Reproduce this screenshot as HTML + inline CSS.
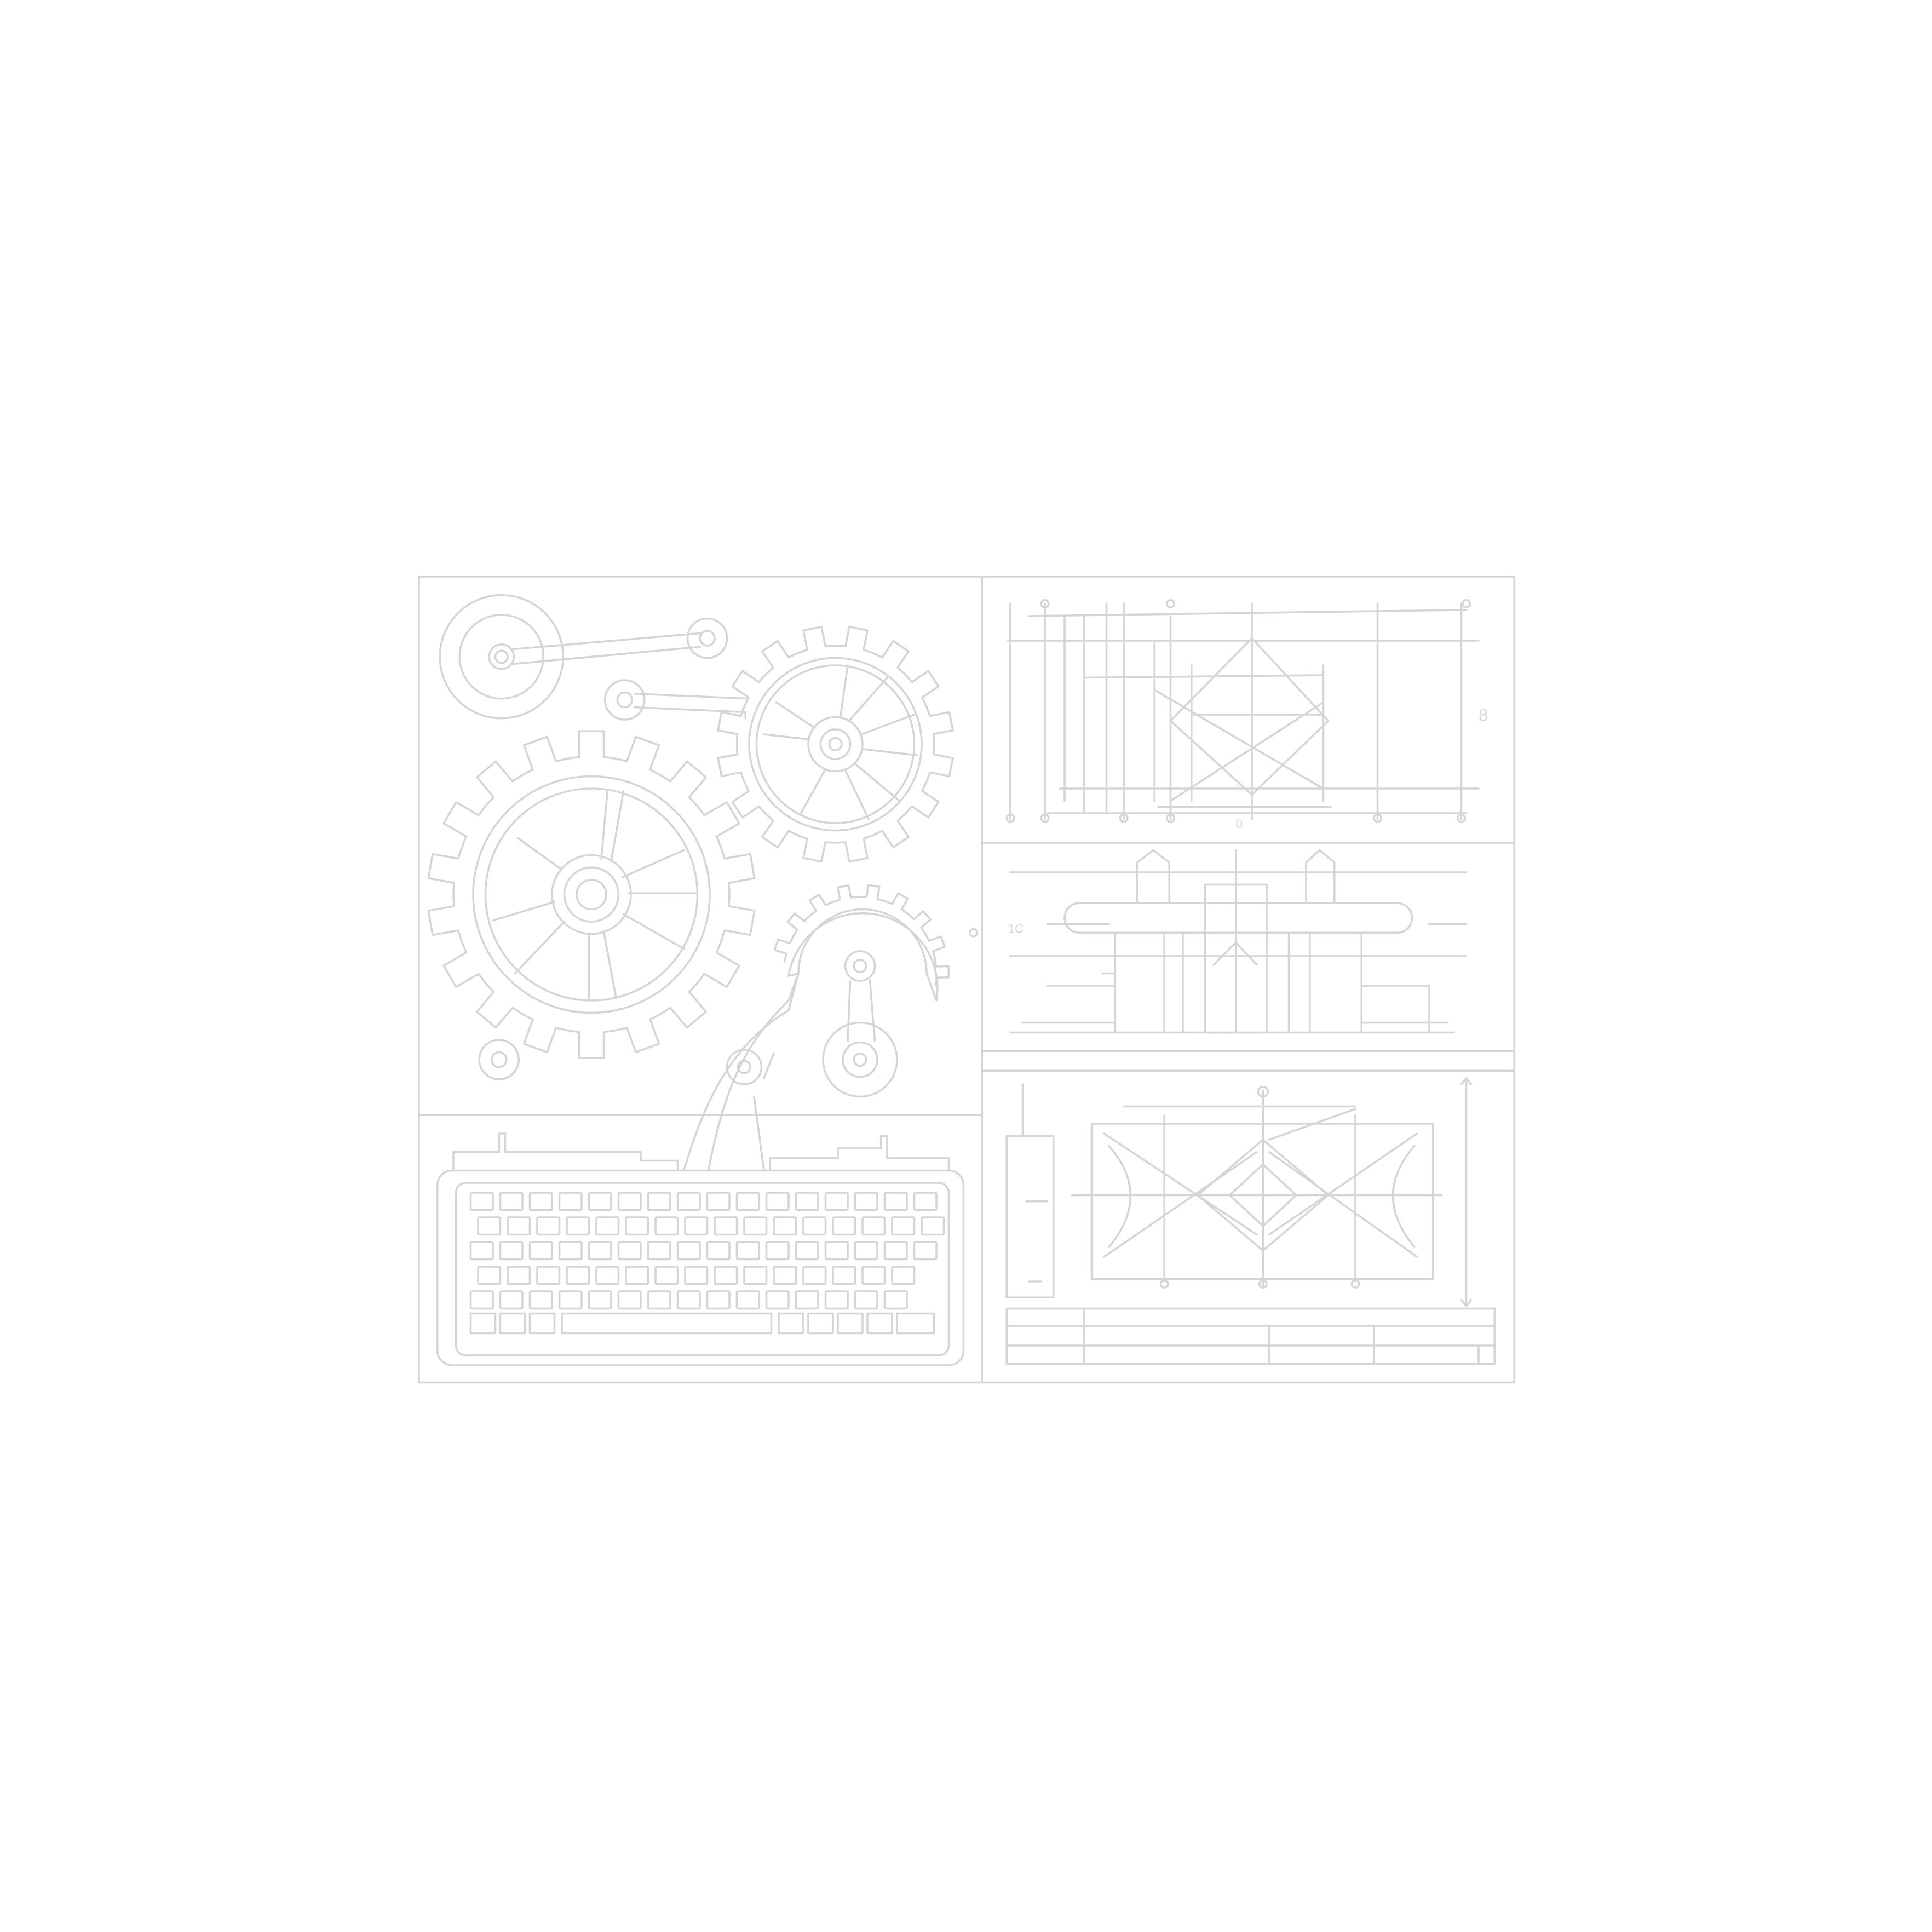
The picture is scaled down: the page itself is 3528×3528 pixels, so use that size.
<!DOCTYPE html>
<html><head><meta charset="utf-8"><style>
html,body{margin:0;padding:0;background:#fff}
svg{display:block}
</style></head><body>
<svg id="s" width="3528" height="3528" viewBox="0 0 1568 1568" xmlns="http://www.w3.org/2000/svg">
<rect width="1568" height="1568" fill="#fff"/>
<g id="g" fill="none" stroke="#d2d6db" stroke-width="1.6" stroke-linejoin="round" stroke-linecap="round">
<rect x="340" y="468" width="889" height="654"/>
<line x1="797" y1="468" x2="797" y2="1122"/>
<line x1="340" y1="905" x2="797" y2="905"/>
<line x1="797" y1="684" x2="1229" y2="684"/>
<line x1="797" y1="853" x2="1229" y2="853"/>
<line x1="797" y1="869" x2="1229" y2="869"/>
<circle cx="407" cy="533" r="50"/><circle cx="407" cy="533" r="34"/><circle cx="407" cy="533" r="10"/><circle cx="407" cy="533" r="5"/>
<path d="M415 527 L568 514 M415 539 L568 525"/>
<circle cx="574" cy="518" r="16"/><circle cx="574" cy="518" r="6"/>
<circle cx="507" cy="568" r="16"/><circle cx="507" cy="568" r="6"/>
<path d="M515 563 L607 567 M515 574 L605 578 L605 583"/>
<path id="bg"/>
<circle cx="480" cy="726" r="96"/><circle cx="480" cy="726" r="86"/>
<circle cx="480" cy="726" r="32"/><circle cx="480" cy="726" r="22"/><circle cx="480" cy="726" r="12"/>
<path d="M496 699 L506 642 M488 697 L493 642 M505 712 L555 690 M510 725 L565 725 M506 742 L555 770 M490 756 L500 810 M478 758 L478 812 M458 748 L418 790 M450 732 L400 747 M455 705 L420 680"/>
<path id="sg"/>
<circle cx="678" cy="604" r="70"/><circle cx="678" cy="604" r="64"/>
<circle cx="678" cy="604" r="22"/><circle cx="678" cy="604" r="12"/><circle cx="678" cy="604" r="5"/>
<path d="M682 582 L688 540 M690 584 L720 550 M699 596 L742 580 M700 608 L745 613 M694 620 L730 650 M686 625 L705 665 M670 624 L650 660 M656 600 L620 596 M660 590 L630 570"/>
<path id="hg"/>
<path d="M648 790 A52 52 0 0 1 752 790 L760 812 A60 60 0 0 0 640 792 Z"/>
<circle cx="698" cy="784" r="12"/><circle cx="698" cy="784" r="5"/>
<path d="M690 796 L688 845 M706 796 L710 845"/>
<circle cx="698" cy="860" r="30"/><circle cx="698" cy="860" r="14"/><circle cx="698" cy="860" r="5"/>
<path d="M555 950 C570 900 590 850 640 820 L648 790 L640 812 C612 840 590 870 575 950"/>
<circle cx="604" cy="866" r="14"/><circle cx="604" cy="866" r="5"/>
<path d="M620 875 L628 855 M612 890 L620 950"/>
<circle cx="405" cy="860" r="16"/><circle cx="405" cy="860" r="6"/>
<circle cx="790" cy="757" r="3"/>
<path d="M368 950 L368 935 L405 935 L405 920 L410 920 L410 935 L520 935 L520 942 L550 942 L550 950"/>
<path d="M625 950 L625 940 L680 940 L680 932 L715 932 L715 922 L720 922 L720 940 L770 940 L770 950"/>
<rect x="355" y="950" width="427" height="158" rx="12"/>
<rect x="370" y="960" width="400" height="140" rx="8"/>
<g id="keys"></g>
<path d="M820 490 L820 665 M848 490 L848 665 M864 500 L864 650 M880 500 L880 660 M898 490 L898 660 M912 490 L912 665 M937 520 L937 650 M950 500 L950 665 M967 540 L967 650 M1016 490 L1016 665 M1074 540 L1074 650 M1118 490 L1118 665 M1186 490 L1186 665"/>
<path d="M835 500 L1190 495 M818 520 L1200 520 M880 550 L1074 548 M860 640 L1200 640 M850 660 L1190 660 M940 655 L1080 655"/>
<path d="M1016 518 L1078 585 L1016 645 L950 585 Z M937 560 L1074 640 M950 650 L1074 570 M967 580 L1074 580"/>
<circle cx="820" cy="664" r="3"/><circle cx="848" cy="664" r="3"/><circle cx="912" cy="664" r="3"/><circle cx="950" cy="664" r="3"/><circle cx="1118" cy="664" r="3"/><circle cx="1186" cy="664" r="3"/>
<circle cx="848" cy="490" r="3"/><circle cx="950" cy="490" r="3"/><circle cx="1190" cy="490" r="3"/>
<path d="M820 708 L1190 708 M820 776 L1190 776 M850 750 L900 750 M1160 750 L1190 750"/>
<path d="M876 733 L1134 733 A12 12 0 0 1 1134 757 L876 757 A12 12 0 0 1 876 733 Z"/>
<path d="M923 733 L923 700 L936 690 L949 700 L949 733 M1060 733 L1060 700 L1071 690 L1083 700 L1083 733"/>
<rect x="978" y="718" width="50" height="120"/>
<path d="M905 757 L905 838 M1105 757 L1105 838 M945 757 L945 838 M1063 757 L1063 838 M960 757 L960 838 M1046 757 L1046 838 M1003 690 L1003 838 M985 783 L1003 765 L1020 783"/>
<path d="M850 800 L905 800 L905 838 M1105 800 L1160 800 L1160 838 M895 790 L905 790 M820 838 L1180 838 M830 830 L905 830 M1105 830 L1175 830"/>
<rect x="817" y="922" width="38" height="131"/>
<path d="M830 880 L830 922 M833 975 L850 975 M835 1040 L845 1040"/>
<rect x="886" y="912" width="277" height="126"/>
<path d="M912 898 L1100 898 M870 970 L1170 970 M1025 885 L1025 1045 M945 905 L945 1040 M1100 905 L1100 1040"/>
<path d="M1025 925 L1078 970 L1025 1015 L972 970 Z M1025 945 L1052 970 L1025 995 L998 970 Z M896 920 L1020 1002 M896 1020 L1020 935 M1150 920 L1030 1002 M1150 1020 L1030 935 M1030 925 L1100 900"/>
<path d="M900 930 Q935 970 900 1012 M1148 930 Q1113 970 1148 1012"/>
<path d="M1190 875 L1190 1060 M1186 880 L1190 875 L1194 880 M1186 1055 L1190 1060 L1194 1055"/>
<circle cx="1025" cy="886" r="4"/><circle cx="945" cy="1042" r="3"/><circle cx="1025" cy="1042" r="3"/><circle cx="1100" cy="1042" r="3"/>
<rect x="817" y="1062" width="396" height="45"/>
<path d="M817 1076 L1213 1076 M817 1092 L1213 1092 M880 1062 L880 1107 M1030 1076 L1030 1107 M1115 1076 L1115 1107 M1200 1092 L1200 1107"/>
</g>
<text x="1003" y="672" font-family="Liberation Sans, sans-serif" font-size="10" fill="#d2d6db">0</text>
<text x="1200" y="585" font-family="Liberation Sans, sans-serif" font-size="14" fill="#d2d6db">8</text>
<text x="818" y="757" font-family="Liberation Sans, sans-serif" font-size="10" fill="#d2d6db">1C</text>
</svg>
<script>
function gear(cx,cy,ro,ri,n,w,a0,a1){
 a0=a0||0;a1=a1||Math.PI*2;var d="",step=(a1-a0)/n;
 function P(r,a){return (cx+r*Math.cos(a)).toFixed(1)+" "+(cy+r*Math.sin(a)).toFixed(1)+" ";}
 for(var i=0;i<n;i++){var a=a0+(i+0.5)*step;
  var di=Math.asin(w/2/ri),dOut=Math.asin(w/2/ro);
  d+=(i==0?"M":"L")+P(ri,a0+i*step)+"L"+P(ri,a-di)+"L"+P(ro,a-dOut)+"L"+P(ro,a+dOut)+"L"+P(ri,a+di)+"L"+P(ri,a0+(i+1)*step);}
 return d;}
document.getElementById("bg").setAttribute("d",gear(480,726,133,112,18,20)+"Z");
document.getElementById("sg").setAttribute("d",gear(678,604,96,80,16,15)+"Z");
document.getElementById("hg").setAttribute("d",gear(698,790,72,62,9,9,Math.PI*1.05,Math.PI*2.05));
var k=document.getElementById("keys"),h="";
var rows=[[382,968,16],[382,988,16],[382,1008,16],[382,1028,15],[382,1048,15]];
rows.forEach(function(r,ri){for(var i=0;i<r[2];i++){var x=r[0]+i*24+(ri%2)*6;h+='<rect x="'+x+'" y="'+r[1]+'" width="18" height="14" rx="1"/>';}});
h+='<rect x="382" y="1066" width="20" height="16"/><rect x="406" y="1066" width="20" height="16"/><rect x="430" y="1066" width="20" height="16"/><rect x="456" y="1066" width="170" height="16"/><rect x="632" y="1066" width="20" height="16"/><rect x="656" y="1066" width="20" height="16"/><rect x="680" y="1066" width="20" height="16"/><rect x="704" y="1066" width="20" height="16"/><rect x="728" y="1066" width="30" height="16"/>';
k.innerHTML=h;
</script>
</body></html>
